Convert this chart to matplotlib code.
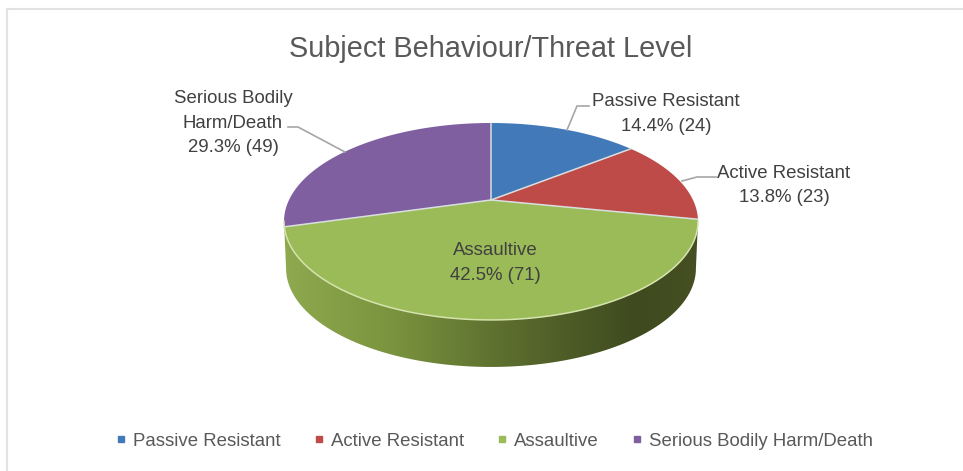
import matplotlib
matplotlib.use('Agg')
import matplotlib.pyplot as plt
from matplotlib.colors import LinearSegmentedColormap
from matplotlib.lines import Line2D
from matplotlib.patches import Polygon
import numpy as np

plt.rcParams['font.family'] = ['Liberation Sans', 'DejaVu Sans']

# data
categories = ['Passive Resistant', 'Active Resistant', 'Assaultive', 'Serious Bodily Harm/Death']
counts = [24, 23, 71, 49]
percents = ['14.4%', '13.8%', '42.5%', '29.3%']
slice_labels = ['Passive Resistant', 'Active Resistant', 'Assaultive', 'Serious Bodily\nHarm/Death']
colors = ['#4279b9', '#be4b48', '#9bbb59', '#7f5fa0']

# perspective of the tilted disc, in pixels
cx, cy = 491, 200
a, b, k = 202, 50.2, 0.218
depth = 47


def project(theta):
    # theta runs clockwise from 12 o'clock
    x = np.sin(theta)
    y = np.cos(theta)
    return cx + a * x / (1 + k * y), (cy - b * y) / (1 + k * y)


fig = plt.figure(figsize=(9.63, 4.71), dpi=100)
ax = fig.add_axes([0, 0, 1, 1])
ax.set_xlim(0, 963)
ax.set_ylim(471, 0)
ax.axis('off')

# frame of the original picture
ax.plot([6.5, 6.5, 963], [471, 8.5, 8.5], color='#e2e2e2', lw=1.5)

# side wall, only the front edge is visible
t = np.linspace(np.arccos(-k), 2 * np.pi - np.arccos(-k), 200)
wx, wy = project(t)
bx = cx + (wx - cx) * 0.99
by = wy + depth
wall = Polygon(np.r_[np.c_[wx, wy], np.c_[bx, by][::-1]], closed=True, fc='none', ec='none')
ax.add_patch(wall)
cmap = LinearSegmentedColormap.from_list('wall', [(0, '#8fa94f'), (0.25, '#7b953f'), (0.5, '#5f7230'),
                                                  (0.7, '#4c5a26'), (0.85, '#3f4a1e'), (1, '#454f22')])
im = ax.imshow(np.linspace(0, 1, 256)[None, :], extent=(284, 699, 400, 200), cmap=cmap, aspect='auto', zorder=1)
im.set_clip_path(wall)
ax.set_xlim(0, 963)
ax.set_ylim(471, 0)

# top face
edges = np.r_[0, np.cumsum(counts)] / np.sum(counts) * 2 * np.pi
for i in range(len(counts)):
    t = np.linspace(edges[i], edges[i + 1], 100)
    px, py = project(t)
    ax.fill(np.r_[cx, px], np.r_[cy, py], color=colors[i], lw=0, zorder=2)
for e in edges[:-1]:
    px, py = project(e)
    ax.plot([cx, px], [cy, py], color='#d9dfe0', lw=1.1, zorder=3)
t = np.linspace(np.arccos(-k), 2 * np.pi - np.arccos(-k), 200)
px, py = project(t)
ax.plot(px, py, color='#d5e3ad', lw=1.1, zorder=3)

# leader lines
lead = '#a6a6a6'
ax.plot([567, 577, 589], [130, 106, 106], color=lead, lw=1.2, zorder=4)
ax.plot([682, 697, 716], [181, 177, 177], color=lead, lw=1.2, zorder=4)
ax.plot([288, 298, 345], [127, 127, 152], color=lead, lw=1.2, zorder=4)

# labels
label_pos = [(666, 114), (784, 185.5), (495, 263), (233, 123)]
for i in range(len(counts)):
    ax.text(label_pos[i][0], label_pos[i][1], '%s\n%s (%d)' % (slice_labels[i], percents[i], counts[i]),
            ha='center', va='center', fontsize=13.4, color='#404040', linespacing=1.6, zorder=5)

ax.text(491, 49, 'Subject Behaviour/Threat Level', ha='center', va='center', fontsize=20.8, color='#595959')

handles = [Line2D([], [], ls='none', marker='s', ms=4.6, color=c) for c in colors]
ax.legend(handles, categories, loc='center', bbox_to_anchor=(494.5, 441), bbox_transform=ax.transData, ncol=4,
          frameon=False, prop={'size': 13.4}, labelcolor='#595959', handlelength=0.6, handletextpad=0.35,
          columnspacing=1.75)

fig.savefig('out.png', dpi=100)
